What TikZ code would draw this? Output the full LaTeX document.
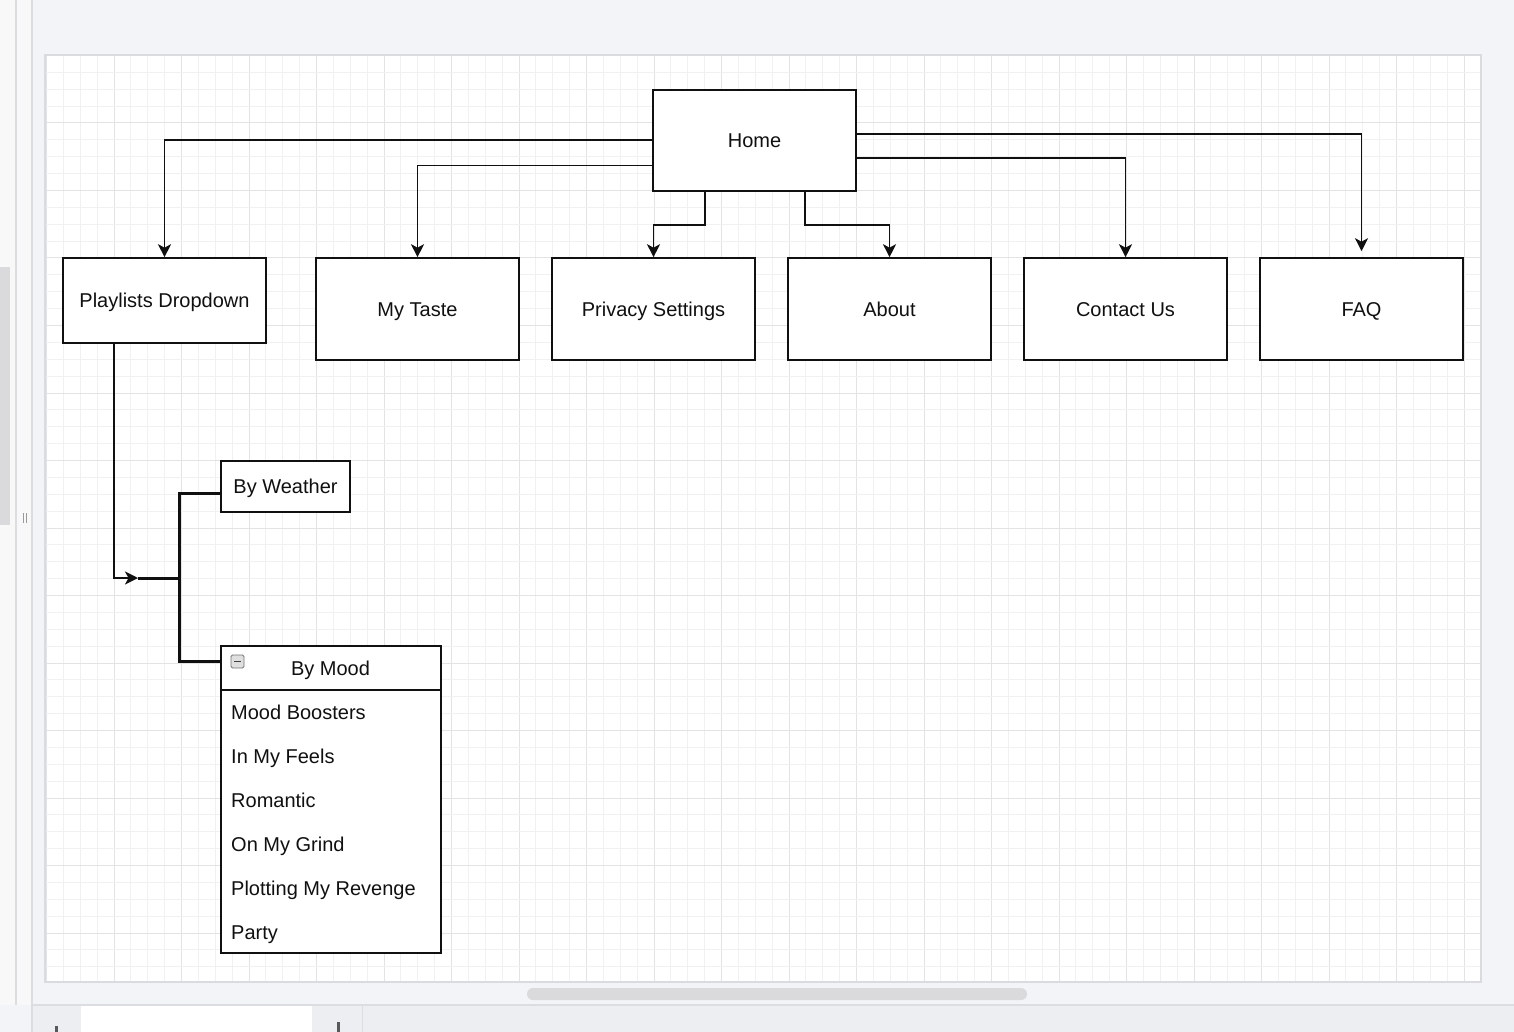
\documentclass[tikz,border=0pt]{standalone}
\usepackage{fontspec}
\setmainfont{Liberation Sans}
\usetikzlibrary{arrows.meta,calc}

\definecolor{chrome}{HTML}{F3F4F7}
\definecolor{sidepanel}{HTML}{F8F8F9}
\definecolor{divider}{HTML}{DCDDE0}
\definecolor{pageedge}{HTML}{DADBDE}
\definecolor{gridmajor}{HTML}{E3E3E6}
\definecolor{gridminor}{HTML}{F1F1F3}
\definecolor{scrollthumb}{HTML}{DADADD}
\definecolor{tabbar}{HTML}{EDEEF1}
\definecolor{ink}{HTML}{101010}

\tikzset{
  label font/.style={font=\fontsize{20}{24}\selectfont, text=ink, text height=14.5pt, text depth=0pt},
  pagebox/.style={draw=ink, line width=1.6pt, fill=white, inner sep=0pt, label font},
  textrow/.style={anchor=west, inner sep=0pt, label font},
  link/.style={draw=ink, line width=1.8pt, -{Stealth[length=13pt,width=13pt,inset=3.5pt]}},
  branch/.style={draw=ink, line width=3pt},
}

\begin{document}
\begin{tikzpicture}[x=1pt, y=-1pt]
  \useasboundingbox (0,0) rectangle (1514,1032);

  % editor chrome
  \fill[chrome] (0,0) rectangle (1514,1032);
  \fill[sidepanel] (0,0) rectangle (32,1005);
  \draw[divider, line width=1.2pt] (16,0) -- (16,1005);
  \draw[divider, line width=1.2pt] (32,0) -- (32,1032);
  \fill[scrollthumb] (0,267) rectangle (10,525);
  \draw[gray!80, line width=0.9pt] (23,513) -- (23,523) (26,513) -- (26,523);

  % drawing page with grid
  \fill[white] (45,55) rectangle (1481,982);
  \begin{scope}
    \clip (45,55) rectangle (1481,982);
    \foreach \i in {0,...,85} {
      \pgfmathtruncatemacro{\m}{mod(\i,4)}
      \ifnum\m=0
        \draw[gridmajor, line width=1pt] ({46.5+\i*16.875},55) -- ({46.5+\i*16.875},982);
      \else
        \draw[gridminor, line width=0.8pt] ({46.5+\i*16.875},55) -- ({46.5+\i*16.875},982);
      \fi
    }
    \foreach \j in {0,...,55} {
      \pgfmathtruncatemacro{\m}{mod(\j,4)}
      \ifnum\m=0
        \draw[gridmajor, line width=1pt] (45,{55.5+\j*16.875}) -- (1481,{55.5+\j*16.875});
      \else
        \draw[gridminor, line width=0.8pt] (45,{55.5+\j*16.875}) -- (1481,{55.5+\j*16.875});
      \fi
    }
  \end{scope}
  \draw[pageedge, line width=1.5pt] (45,55) rectangle (1481,982);

  % horizontal scrollbar and page tabs
  \fill[scrollthumb, rounded corners=6pt] (527,988) rectangle (1027,1000);
  \fill[tabbar] (33,1005) rectangle (1514,1032);
  \draw[divider, line width=1.2pt] (33,1005) -- (1514,1005);
  \fill[white] (81,1006) rectangle (312,1032);
  \draw[divider, line width=1pt] (362,1006) -- (362,1032);
  \fill[gray!70!black] (55,1026) rectangle (58,1032);
  \fill[gray!70!black] (337,1022) rectangle (340,1032);

  % site map boxes
  \node[pagebox, minimum width=203pt, minimum height=101pt] (home) at (754.5,140.5) {Home};
  \node[pagebox, minimum width=203pt, minimum height=85pt] (playlists) at (164.5,300.5) {Playlists Dropdown};
  \node[pagebox, minimum width=203pt, minimum height=102pt] (mytaste) at (417.5,309) {My Taste};
  \node[pagebox, minimum width=203pt, minimum height=102pt] (privacy) at (653.5,309) {Privacy Settings};
  \node[pagebox, minimum width=203pt, minimum height=102pt] (about) at (889.5,309) {About};
  \node[pagebox, minimum width=203pt, minimum height=102pt] (contact) at (1125.5,309) {Contact Us};
  \node[pagebox, minimum width=203pt, minimum height=102pt] (faq) at (1361.5,309) {FAQ};

  % playlist categories
  \node[pagebox, minimum width=129pt, minimum height=51pt] (weather) at (285.5,486.5) {By Weather};
  \node[draw=ink, line width=1.6pt, fill=white, minimum width=220pt, minimum height=307pt, inner sep=0pt] (mood) at (331,799.5) {};
  \draw[ink, line width=1.6pt] (221,690) -- (441,690);
  \node[label font, inner sep=0pt] (moodtitle) at (330.5,668) {By Mood};
  \node[draw=gray!90!black, fill=gray!25, rounded corners=1.5pt, line width=0.9pt,
        minimum width=13pt, minimum height=13pt, inner sep=0pt] (collapse) at (237.5,661.5) {};
  \draw[ink!80, line width=1.3pt] ([xshift=-3.5pt]collapse.center) -- ([xshift=3.5pt]collapse.center);

  \node[textrow] (m1) at (231,712.5) {Mood Boosters};
  \node[textrow] (m2) at (231,756.5) {In My Feels};
  \node[textrow] (m3) at (231,800.5) {Romantic};
  \node[textrow] (m4) at (231,844.5) {On My Grind};
  \node[textrow] (m5) at (231,888.5) {Plotting My Revenge};
  \node[textrow] (m6) at (231,932.5) {Party};

  % connectors from Home
  \draw[link] ([yshift=0.5pt]home.west) -| (playlists.north);
  \draw[link] ([yshift=-25pt]home.west) -| (mytaste.north);
  \draw[link] ([xshift=-49.5pt]home.south) -- ++(0,33.5) -| (privacy.north);
  \draw[link] ([xshift=50.5pt]home.south) -- ++(0,33.5) -| (about.north);
  \draw[link] ([yshift=-17.5pt]home.east) -| (contact.north);
  \draw[link] ([yshift=6.5pt]home.east) -| ([yshift=6pt]faq.north);

  % dropdown tree
  \coordinate (split) at (138,578);
  \coordinate (trunk) at (179,578);
  \draw[link] ([xshift=-50.5pt]playlists.south) |- (split);
  \draw[branch] (split) -- (trunk);
  \draw[branch, line join=miter] ([yshift=-6.5pt]weather.west) -| (trunk) |- ([yshift=-16pt]mood.north west);
\end{tikzpicture}
\end{document}
